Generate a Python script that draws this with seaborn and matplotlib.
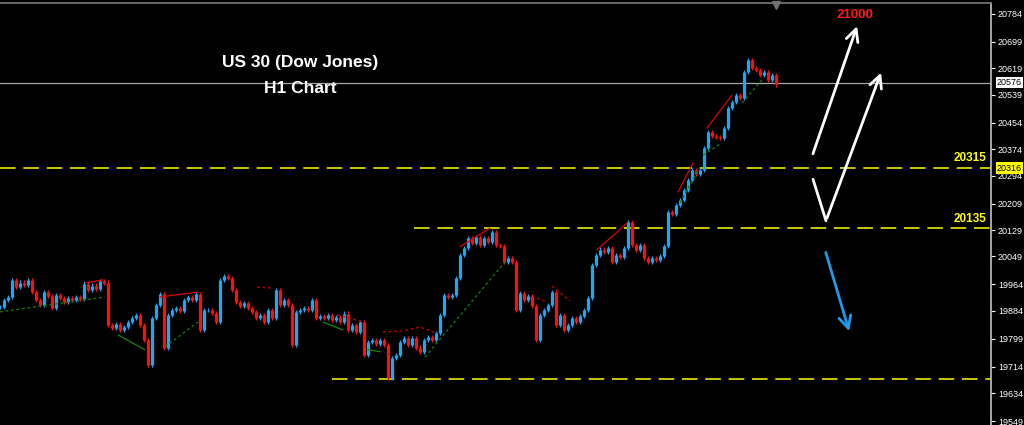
import numpy as np
import pandas as pd
import matplotlib
matplotlib.use("Agg")
import matplotlib.pyplot as plt
import seaborn as sns

# US30 H1 closes (one value per bar)
closes = [
    19896, 19917, 19926, 19978, 19956, 19969, 19962, 19978, 19941, 19917,
    19902, 19941, 19929, 19893, 19932, 19923, 19911, 19923, 19917, 19926,
    19920, 19966, 19947, 19960, 19950, 19975, 19969, 19841, 19832, 19844,
    19826, 19835, 19850, 19862, 19871, 19841, 19796, 19720, 19862, 19902,
    19935, 19772, 19871, 19887, 19893, 19884, 19917, 19926, 19917, 19935,
    19826, 19887, 19887, 19878, 19850, 19978, 19990, 19984, 19947, 19911,
    19899, 19908, 19893, 19881, 19862, 19871, 19850, 19887, 19862, 19947,
    19902, 19917, 19902, 19781, 19881, 19887, 19893, 19887, 19917, 19862,
    19868, 19862, 19871, 19856, 19865, 19850, 19875, 19826, 19841, 19820,
    19850, 19750, 19790, 19796, 19784, 19796, 19781, 19681, 19741, 19750,
    19790, 19802, 19781, 19802, 19772, 19760, 19796, 19805, 19796, 19817,
    19871, 19932, 19926, 19932, 19984, 20053, 20075, 20105, 20090, 20108,
    20084, 20105, 20093, 20123, 20084, 20081, 20032, 20044, 20032, 19887,
    19938, 19917, 19929, 19899, 19796, 19871, 19887, 19902, 19941, 19841,
    19871, 19826, 19841, 19862, 19850, 19868, 19887, 19923, 20023, 20053,
    20069, 20062, 20075, 20032, 20053, 20047, 20075, 20153, 20084, 20069,
    20084, 20044, 20032, 20044, 20038, 20050, 20081, 20184, 20178, 20205,
    20220, 20250, 20281, 20311, 20299, 20311, 20378, 20426, 20414, 20411,
    20408, 20438, 20499, 20517, 20538, 20529, 20608, 20644, 20620, 20614,
    20599, 20608, 20584, 20599, 20570,
]

axis_ticks = [20784, 20699, 20619, 20539, 20454, 20374, 20294, 20209,
              20129, 20049, 19964, 19884, 19799, 19714, 19634, 19549]
current_price = 20576
level_high = 20316
level_mid = 20135
level_low = 19676
target = 21000

# indicator swing lines: (segment, bar, price)
green_swings = [
    (0, 0, 19881), (0, 26.25, 19926),
    (1, 41.25, 19775), (1, 49.5, 19850),
    (2, 106.25, 19744), (2, 126.25, 20032),
    (3, 170, 20211), (3, 175, 20320),
    (4, 175.75, 20356), (4, 180.5, 20393),
    (5, 185.5, 20514), (5, 190.5, 20584),
]
green_solid = [
    (0, 29.5, 19811), (0, 36.25, 19766),
    (1, 80.75, 19850), (1, 85.75, 19826),
    (2, 91.75, 19767), (2, 95, 19760),
]
red_solid = [
    (0, 40, 19926), (0, 49.5, 19941),
    (1, 21.5, 19969), (1, 25.75, 19978),
    (2, 115, 20078), (2, 122.5, 20135),
    (3, 149.25, 20069), (3, 156.75, 20150),
    (4, 169.5, 20244), (4, 173.25, 20332),
    (5, 176.75, 20438), (5, 183, 20538),
]
red_dashed = [
    (0, 64.25, 19956), (0, 68.25, 19953),
    (1, 84.25, 19871), (1, 87.5, 19862), (1, 90.75, 19850),
    (2, 95.75, 19820), (2, 100.75, 19823), (2, 105, 19835), (2, 108.75, 19817),
    (3, 134.25, 19923), (3, 136.75, 19911),
    (4, 138, 19959), (4, 142.5, 19914),
]

sns.set_theme(style="dark", rc={"axes.facecolor": "black", "figure.facecolor": "black"})
plt.rcParams['font.family'] = ['Liberation Sans', 'DejaVu Sans']

fig = plt.figure(figsize=(10.24, 4.25), dpi=100)
ax = fig.add_axes([0, 0, 991 / 1024, 422 / 425])
ax.set_facecolor("black")

bars = np.arange(len(closes))
opens = np.array([closes[0]] + closes[:-1])
cl = np.array(closes)
up_col = "#19A9F5"
dn_col = "#FF1010"
cols = [up_col if c >= o else dn_col for o, c in zip(opens, cl)]
lo = np.minimum(opens, cl)
hi = np.maximum(opens, cl)
wick = 7  # visual wick pad in points of price
ax.vlines(bars, lo - wick, hi + wick, colors=cols, linewidth=0.9, zorder=3)
ax.vlines(bars, lo, hi, colors=cols, linewidth=2.3, zorder=3)

def seg_plot(rows, color, ls, lw):
    df = pd.DataFrame(rows, columns=["seg", "bar", "price"])
    sns.lineplot(data=df, x="bar", y="price", units="seg", estimator=None,
                 sort=False, color=color, linestyle=ls, linewidth=lw, ax=ax, zorder=4)

seg_plot(green_swings, "#0E7A0E", (0, (2, 2)), 1.0)
seg_plot(green_solid, "#118A11", "-", 0.9)
seg_plot(red_solid, "#E00000", "-", 0.9)
seg_plot(red_dashed, "#C00000", (0, (2, 2)), 1.0)

xmax = 247.75
yel = "#C8C800"
ax.axhline(current_price, color="#A8A8A8", lw=0.9, zorder=2)
ax.axhline(level_high, color=yel, lw=1.4, ls=(0, (8, 4)), zorder=2)
ax.hlines(level_mid, 103.5, xmax, color=yel, lw=1.4, ls=(0, (8, 4)), zorder=2)
ax.hlines(level_low, 83, xmax, color=yel, lw=1.4, ls=(0, (8, 4)), zorder=2)

# projection arrows
arr_w = dict(arrowstyle="->", color="white", lw=2.0, mutation_scale=22)
ax.plot([203.25, 206.5], [20283, 20157], color="white", lw=2.0, zorder=5)
ax.annotate("", xy=(220.5, 20614), xytext=(206.5, 20157), arrowprops=arr_w, zorder=5)
ax.annotate("", xy=(214.5, 20755), xytext=(203, 20352), arrowprops=arr_w, zorder=5)
ax.annotate("", xy=(212.5, 19814), xytext=(206.25, 20069),
            arrowprops=dict(arrowstyle="->", color="#1E9BE6", lw=2.0, mutation_scale=22), zorder=5)

ax.text(213.75, 20780, f"{target}", color="#FF1A1A", fontsize=9.5, fontweight="bold", ha="center", va="center")
ax.text(246.5, 20346, "20315", color="#FFFF00", fontsize=8.5, fontweight="bold", ha="right", va="center")
ax.text(246.5, 20162, "20135", color="#FFFF00", fontsize=8.5, fontweight="bold", ha="right", va="center")
ax.text(75, 20638, "US 30 (Dow Jones)", color="white", fontsize=12.5, fontweight="bold", ha="center", va="center")
ax.text(75, 20559, "H1 Chart", color="white", fontsize=12.5, fontweight="bold", ha="center", va="center")

ax.plot([194], [20810], marker="v", color="#707070", markersize=6, clip_on=False, zorder=6)

ax.set_xlim(0, xmax)
ax.set_ylim(19538, 20817)
ax.set_xticks([])
ax.yaxis.tick_right()
ax.set_yticks(axis_ticks)
ax.set_yticklabels([str(t) for t in axis_ticks])
ax.tick_params(axis="y", colors="white", labelsize=6.5, length=3, width=0.8, pad=2, right=True)
ax.set_xlabel("")
ax.set_ylabel("")
for s in ["left", "bottom"]:
    ax.spines[s].set_visible(False)
ax.spines["right"].set_color("#BBBBBB")
ax.spines["top"].set_color("#777777")

for val, bg in [(current_price, "white"), (level_high, "#FFFF00")]:
    ax.text(1.006, val, str(val), transform=ax.get_yaxis_transform(), fontsize=6.5,
            color="black", va="center", ha="left",
            bbox=dict(boxstyle="square,pad=0.15", fc=bg, ec="none"), zorder=7, clip_on=False)

fig.savefig("out.png", dpi=100, facecolor="black")
